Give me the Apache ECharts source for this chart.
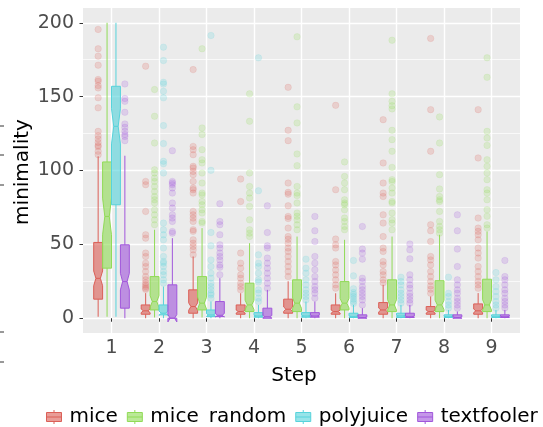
<!DOCTYPE html>
<html>
<head>
<meta charset="utf-8">
<script src="https://cdn.jsdelivr.net/npm/echarts@6/dist/echarts.min.js"></script>
<style>
  html, body { margin: 0; padding: 0; background: #fff; }
  #chart { width: 543px; height: 427px; }
</style>
</head>
<body>
<div id="chart"></div>
<script>
// step labels on the x axis
var steps = ['1', '2', '3', '4', '5', '6', '7', '8', '9']
var groups = ['mice', 'mice\u2002random', 'polyjuice', 'textfooler']
var yTicks = [0, 50, 100, 150, 200]
var yMinorTicks = [25, 75, 125, 175]

// box stats per step (lower whisker, hinges, median, upper whisker, notch half height)
var miceLo = [1, 0, 0, 0, 0, 0, 0, 0, 0]
var miceQ1 = [12.9, 2.7, 3.4, 2.7, 3.4, 2.7, 2.7, 2.7, 2.7]
var miceMed = [27, 5, 7.9, 4.5, 6.1, 4.5, 5.6, 4.5, 5]
var miceQ3 = [51.3, 9.0, 19.2, 9.0, 12.9, 9.0, 10.6, 7.9, 9.7]
var miceHi = [109.6, 17, 41.8, 16.9, 25, 16.9, 22.6, 14.7, 17]
var miceNotch = [5, 1.2, 2.5, 1, 1.5, 1, 1.3, 1, 1.2]
var miceOut = [
  [195.5, 182.4, 177.4, 171.3, 161.6, 160.5, 157.5, 155.9, 149.2, 142.4, 126.5, 123.6, 121.4, 119, 117, 116, 113, 110.7],
  [170.6, 92.6, 90.4, 72.3, 56.5, 54.2, 44.1, 41.8, 37.3, 35, 31.6, 28.2, 26, 24, 22.6, 21.4, 20.3, 19.5],
  [168.3, 116.3, 114.1, 110.7, 102.8, 101.7, 99.4, 97.2, 92.6, 88.1, 87, 84.7, 72.3, 70, 67.8, 65.5, 59.9, 58.8, 53.1, 50.8, 48.6, 46.3, 42.9],
  [94.2, 79, 44.1, 37.3, 33.9, 29.4, 27.1, 23.7, 21.4, 19.2],
  [156.3, 127.2, 120.2, 91.5, 85.2, 84, 76.1, 68.9, 67.5, 61, 55.3, 53.5, 50.8, 47.5, 45.2, 41.8, 38.4, 35, 31.6, 28.2],
  [144.1, 87, 53.6, 49.7, 47.5, 38.4, 36.1, 32.7, 29.4, 26, 22.6, 20.3],
  [134.4, 105.1, 91.5, 84.7, 82.4, 70, 64.4, 55.3, 47.5, 45.2, 38.4, 36.1, 31.6, 29.4, 26, 24],
  [189.4, 141.2, 113, 63.3, 59.2, 51.9, 41.8, 39.5, 36.1, 31.6, 28.2, 24.9, 21.9, 19.6, 16.9],
  [141.2, 108.5, 67.8, 61, 58.8, 56.5, 53.1, 47.5, 44.1, 40.7, 35, 31.6, 28.2, 24.9, 22.6, 20.3]
]

var randLo = [1, 0.5, 0.5, 0, 0, 0, 0, 0, 0]
var randQ1 = [33.9, 5.6, 5.6, 4.5, 4.5, 5.6, 4.5, 4.5, 4.5]
var randMed = [68.9, 11.3, 10.2, 9, 10.2, 10.2, 9, 9, 9]
var randQ3 = [105.8, 28.2, 28.2, 23.7, 26, 24.8, 26, 25.4, 26.4]
var randHi = [200, 59.9, 61, 50.8, 55.3, 53.1, 55.3, 56.5, 58.7]
var randNotch = [12.4, 4, 4, 3.2, 3.5, 3.2, 3.5, 3.2, 3.5]
var randOut = [
  [],
  [154.8, 136.7, 118.6, 100.5, 98.3, 94.9, 92.6, 89.2, 85.8, 82.4, 80.2, 78, 73.4, 70, 66.6, 63.3],
  [182.4, 128.8, 124.3, 114.1, 107.3, 105.1, 98.3, 91.5, 84.7, 83.5, 79, 76.8, 73.4, 71.2, 65.5, 64.4],
  [151.9, 133.3, 98.3, 89.2, 84.7, 81.4, 75.7, 66.6, 59.9, 57.6, 55.3],
  [190.5, 143.1, 132.2, 111.2, 103.3, 89.2, 84.7, 83, 78, 71.2, 69, 66.6, 63.3, 59.9],
  [105.8, 96, 91.5, 87, 80.2, 78, 76.8, 73.4, 67.8, 65.5, 62.1, 59.9],
  [188.2, 151.9, 146.8, 143.9, 141.7, 127.2, 120.9, 113, 102.1, 93.8, 92.5, 88.1, 84.7, 79, 78, 71.2, 66.6, 64.4, 59.9],
  [136.3, 118.6, 97.2, 87.5, 82.4, 80.2, 79, 72.3, 65.5, 62.1, 59.9, 57.6],
  [176.3, 163.1, 126.5, 122, 117, 107.3, 102.8, 98.3, 93.8, 87, 84.7, 80.2, 73.4, 69, 63.3, 61]
]

var polyLo = [1, 0, 0, 0, 0, 0, 0, 0, 0]
var polyQ1 = [76.8, 2.3, 1.1, 0.7, 0.7, 0.5, 0.5, 0.5, 0.5]
var polyMed = [129.9, 3.4, 2.2, 1.5, 1.5, 1.2, 1.5, 1, 1]
var polyQ3 = [157, 9.0, 5.6, 3.8, 3.8, 3.4, 3.4, 2.3, 2.3]
var polyHi = [200, 21.4, 11.3, 9, 11.3, 9, 9, 5.6, 5.6]
var polyNotch = [11.9, 1.5, 0.8, 0.5, 0.5, 0.4, 0.4, 0.3, 0.3]
var polyOut = [
  [],
  [183.5, 174.4, 159.7, 158.5, 153.6, 149.2, 130.4, 118.2, 106.2, 104.6, 98.3, 64.4, 59.9, 56.5, 53.1, 47.5, 41.8, 38.4, 37.3, 35, 31.6, 29.4, 26, 23.7],
  [191.4, 100.1, 58, 49, 39.5, 35, 30.5, 27.1, 23.7, 21.4, 19.2, 16.9, 15.8, 13.5],
  [176.3, 86.3, 42.9, 37.3, 35, 30.5, 26, 24.5, 19.2, 17, 13.6, 11.3],
  [40, 33.9, 30.5, 26, 22.6, 19.2, 16.9, 14.7, 12.4],
  [39.1, 28.7, 20, 17.4, 16, 14.7, 13, 11.3, 10],
  [27.8, 24.9, 22.6, 19.2, 16.9, 14.7, 12.4, 10.2],
  [27.8, 16.9, 14.7, 11.3, 9, 6.8],
  [30.9, 26, 21.4, 18.1, 14.7, 11.3, 9, 6.8]
]

var tfLo = [0, 0, 0, 0, 0, 0, 0, 0, 0]
var tfQ1 = [6.8, 0, 1.1, 0, 0.7, 0, 0.5, 0, 0.5]
var tfMed = [24.8, 0, 2, 1, 1.5, 0.5, 1, 0.5, 1]
var tfQ3 = [49.7, 22.6, 11.3, 6.8, 3.8, 2.3, 3.4, 2.3, 2.3]
var tfHi = [110, 54.2, 27.1, 19.2, 11.3, 6.8, 9, 4.5, 5.6]
var tfNotch = [5.6, 2.5, 1.2, 0.8, 0.5, 0.4, 0.4, 0.4, 0.3]
var tfOut = [
  [158.6, 148.7, 146.8, 139.4, 131.5, 129.2, 126.5, 124.3, 123, 120.2],
  [113.4, 92.6, 91.5, 90.4, 88.2, 84.7, 78, 74.6, 70, 67.8, 65.5, 58.7, 57.6],
  [77.5, 65.5, 63.3, 56.5, 49.7, 47.5, 44.1, 41.8, 39.5, 36.1, 34.5, 29.4],
  [76.1, 58, 49, 47.5, 40.7, 37.3, 33.9, 30.5, 27.1, 23.7, 20.3],
  [68.9, 59.2, 51.9, 41.8, 37.3, 32.8, 28.2, 24.9, 21.4, 19.2, 16.9, 13.6],
  [62.1, 46.8, 44.1, 40, 27.1, 24.9, 21.4, 19.2, 16.9, 14.7, 12.4, 9],
  [50.2, 46.3, 40.2, 29.4, 26, 22.6, 20.3, 16.9, 14.7, 12.4, 10.2],
  [70, 59.2, 46.8, 35, 26, 22.6, 19.2, 16.9, 13.6, 11.3, 9, 6.8],
  [39.1, 28.2, 26, 22.6, 19.2, 16.9, 13.6, 11.3, 9, 7]
]

var colors = ['#db5f57', '#91db57', '#57d3db', '#a157db']
var FONT = 'DejaVu Sans'
var boxWidth = 0.75 / 4

var stats = [
  [miceLo, miceQ1, miceMed, miceQ3, miceHi, miceNotch, miceOut],
  [randLo, randQ1, randMed, randQ3, randHi, randNotch, randOut],
  [polyLo, polyQ1, polyMed, polyQ3, polyHi, polyNotch, polyOut],
  [tfLo, tfQ1, tfMed, tfQ3, tfHi, tfNotch, tfOut]
]

function hexA(hex, a) {
  var n = parseInt(hex.slice(1), 16)
  return 'rgba(' + (n >> 16) + ',' + ((n >> 8) & 255) + ',' + (n & 255) + ',' + a + ')'
}

// notched box like ggplot (notchwidth 0.5)
function makeRender(offset, color) {
  return function(params, api) {
    var x = api.value(0) + offset
    var half = api.size([boxWidth, 0])[0] / 2
    var cx = api.coord([x, 0])[0]
    var y = function(v) { return api.coord([x, v])[1] }
    var med = api.value(3)
    var nt = api.value(6)
    var lo = y(api.value(1))
    var q1 = y(api.value(2))
    var m = y(med)
    var q3 = y(api.value(4))
    var hi = y(api.value(5))
    var nUp = y(med + nt)
    var nDn = y(med - nt)
    var l = cx - half
    var r = cx + half
    var ind = half * 0.5
    var lineStyle = { stroke: color, lineWidth: 1, fill: null }
    return {
      type: 'group',
      children: [
        { type: 'line', shape: { x1: cx, y1: q3, x2: cx, y2: hi }, style: lineStyle },
        { type: 'line', shape: { x1: cx, y1: q1, x2: cx, y2: lo }, style: lineStyle },
        {
          type: 'polygon',
          shape: { points: [[l, q3], [l, nUp], [l + ind, m], [l, nDn], [l, q1], [r, q1], [r, nDn], [r - ind, m], [r, nUp], [r, q3]] },
          style: { fill: hexA(color, 0.62), stroke: color, lineWidth: 1 }
        },
        { type: 'line', shape: { x1: l + ind, y1: m, x2: r - ind, y2: m }, style: lineStyle }
      ]
    }
  }
}

var series = []
groups.forEach(function(name, g) {
  var s = stats[g]
  var offset = (g - 1.5) * boxWidth
  var boxData = steps.map(function(st, i) {
    return [i + 1, s[0][i], s[1][i], s[2][i], s[3][i], s[4][i], s[5][i]]
  })
  var outData = []
  s[6].forEach(function(vals, i) {
    vals.forEach(function(v) { outData.push([i + 1 + offset, v]) })
  })
  series.push({
    name: name,
    type: 'custom',
    renderItem: makeRender(offset, colors[g]),
    dimensions: ['step', 'lo', 'q1', 'med', 'q3', 'hi', 'notch'],
    encode: { x: 0, y: [1, 5] },
    itemStyle: { color: hexA(colors[g], 0.62), borderColor: colors[g] },
    data: boxData,
    z: 3
  })
  series.push({
    name: name,
    type: 'scatter',
    symbol: 'circle',
    symbolSize: 6.5,
    itemStyle: { color: colors[g], borderColor: colors[g], borderWidth: 0.6, opacity: 0.2 },
    data: outData,
    z: 2
  })
})

var keyIcon = 'path://M8,0V2.5M0.5,2.5H15.5V11.5H0.5ZM0.5,7H15.5M8,11.5V14'

var chart = echarts.init(document.getElementById('chart'), null, { renderer: 'canvas' })
chart.setOption({
  animation: false,
  backgroundColor: '#fff',
  textStyle: { fontFamily: FONT },
  grid: {
    left: 83, top: 8, width: 437, height: 325,
    show: true, backgroundColor: '#EBEBEB', borderWidth: 0
  },
  xAxis: {
    type: 'value',
    min: 0.4,
    max: 9.6,
    axisLine: { show: false },
    axisTick: { show: true, customValues: steps.map(function(s, i) { return i + 1 }), length: 3.5, lineStyle: { color: '#333', width: 1 } },
    axisLabel: {
      customValues: steps.map(function(s, i) { return i + 1 }),
      formatter: function(v) { return steps[Math.round(v) - 1] },
      fontFamily: FONT, fontSize: 19, color: '#4D4D4D', margin: 6
    },
    splitLine: { show: true, lineStyle: { color: '#fff', width: 1.4 } }
  },
  yAxis: [{
    type: 'value',
    min: -10,
    max: 210,
    axisLine: { show: false },
    axisTick: { show: true, customValues: yTicks, length: 3.5, lineStyle: { color: '#333', width: 1 } },
    axisLabel: { customValues: yTicks, fontFamily: FONT, fontSize: 19, color: '#4D4D4D', margin: 9 },
    splitLine: { show: true, lineStyle: { color: '#fff', width: 1.4 } }
  }, {
    type: 'value',
    min: -10,
    max: 210,
    axisLine: { show: false },
    axisTick: { show: false, customValues: yMinorTicks },
    axisLabel: { show: false },
    splitLine: { show: true, lineStyle: { color: '#fff', width: 0.7 } }
  }],
  legend: {
    left: 46,
    top: 407,
    width: 540,
    padding: 0,
    itemWidth: 17,
    itemHeight: 14,
    itemGap: 9,
    textStyle: { fontFamily: FONT, fontSize: 20, color: '#000', padding: [0, 0, 0, 2] },
    data: groups.map(function(name, g) {
      return { name: name, icon: keyIcon, itemStyle: { color: hexA(colors[g], 0.62), borderColor: colors[g], borderWidth: 1 } }
    })
  },
  graphic: [
    { type: 'text', x: 22.5, y: 172, rotation: Math.PI / 2, style: { text: 'minimality', font: '20px "DejaVu Sans"', fill: '#000', align: 'center', verticalAlign: 'middle' } },
    { type: 'text', x: 294, y: 376, style: { text: 'Step', font: '20px "DejaVu Sans"', fill: '#000', align: 'center', verticalAlign: 'middle' } },
    // stray tick marks of a neighbouring panel at the left border
    { type: 'line', shape: { x1: 0, y1: 126, x2: 4, y2: 126 }, style: { stroke: '#333', lineWidth: 1 } },
    { type: 'line', shape: { x1: 0, y1: 155, x2: 4, y2: 155 }, style: { stroke: '#333', lineWidth: 1 } },
    { type: 'line', shape: { x1: 0, y1: 185, x2: 4, y2: 185 }, style: { stroke: '#333', lineWidth: 1 } },
    { type: 'line', shape: { x1: 0, y1: 332, x2: 4, y2: 332 }, style: { stroke: '#333', lineWidth: 1 } },
    { type: 'line', shape: { x1: 0, y1: 362, x2: 4, y2: 362 }, style: { stroke: '#333', lineWidth: 1 } }
  ],
  series: series
})
</script>
</body>
</html>
